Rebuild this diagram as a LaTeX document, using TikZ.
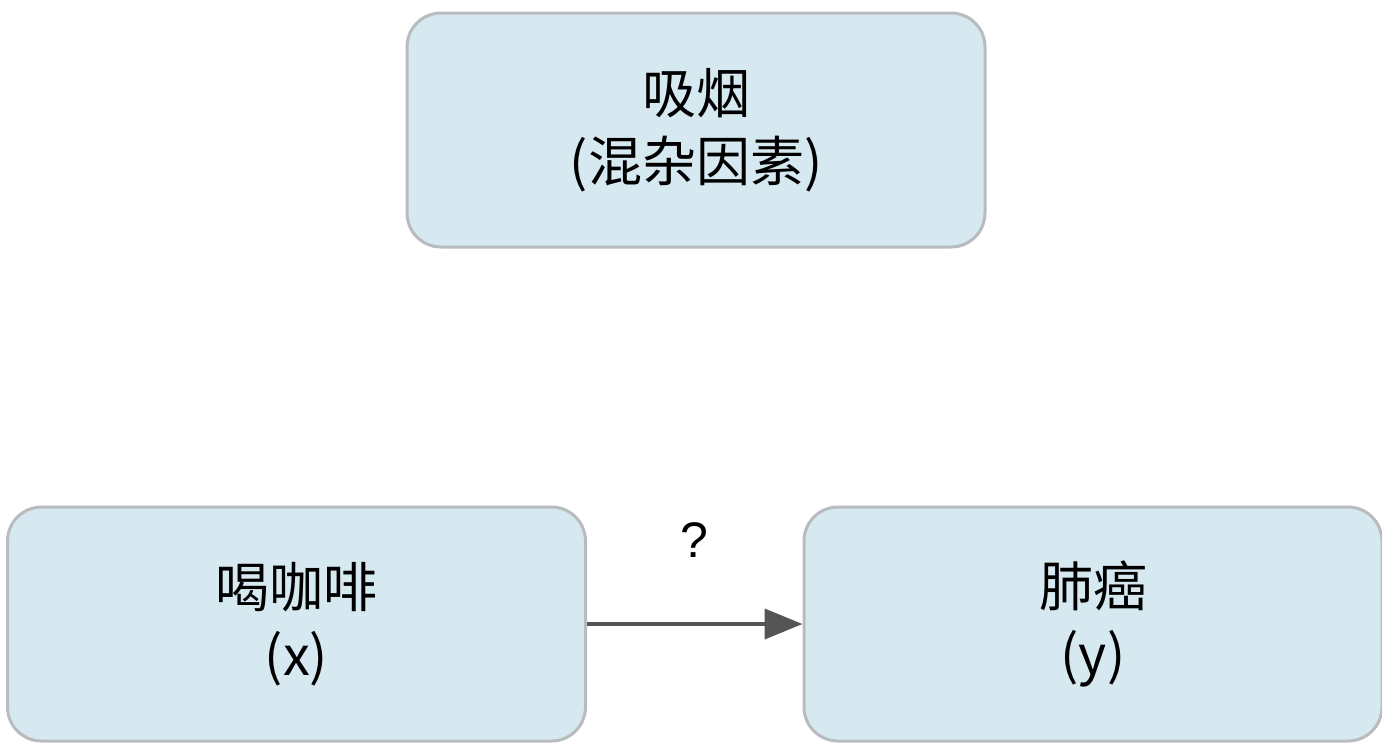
\documentclass[tikz,border=0pt]{standalone}
\usepackage{fontspec}
\setmainfont{Liberation Sans}
\newfontfamily\cjk{Noto Sans CJK SC}
\usetikzlibrary{arrows.meta}
\definecolor{boxfill}{HTML}{D6E8F0}
\definecolor{boxline}{HTML}{B8BCBE}
\definecolor{arrowgray}{HTML}{555555}
\tikzset{
  box/.style={draw=boxline, line width=1.5pt, fill=boxfill, rounded corners=17pt,
    minimum width=289pt, minimum height=117pt, align=center,
    font=\cjk\fontsize{27}{34}\selectfont},
  link/.style={draw=arrowgray, line width=2pt, -{Triangle[length=19pt,width=15pt]}}
}
\begin{document}
\begin{tikzpicture}[x=0.5pt, y=-0.5pt]
  \useasboundingbox (0,0) rectangle (1382,752);

  \node[box] (smoke) at (696, 130) {吸烟\\(混杂因素)};
  \node[box] (coffee) at (296.5, 624) {喝咖啡\\(x)};
  \node[box] (cancer) at (1093, 624) {肺癌\\(y)};

  \draw[link] (coffee) -- node[above=29pt, font=\fontsize{25}{28}\selectfont]{?} (cancer);
\end{tikzpicture}
\end{document}
